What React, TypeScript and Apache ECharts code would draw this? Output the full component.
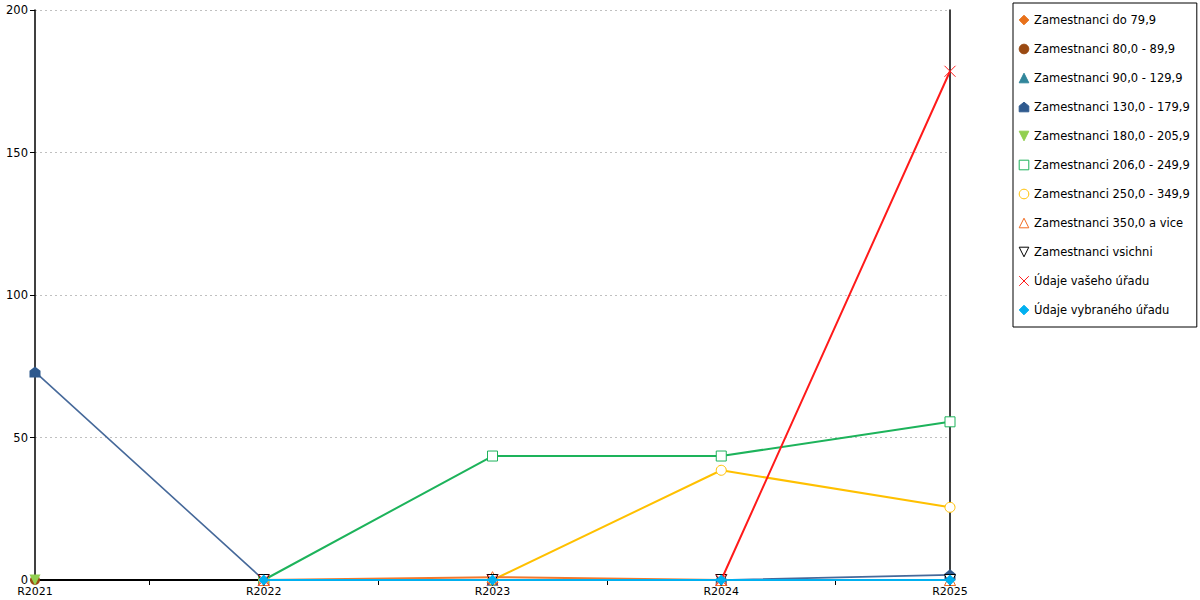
import React, { useEffect, useRef } from "react";
import * as echarts from "echarts";

const categories = ["R2021", "R2022", "R2023", "R2024", "R2025"];
const yTicks = [0, 50, 100, 150, 200];

const names = [
  "Zamestnanci do 79,9",
  "Zamestnanci 80,0 - 89,9",
  "Zamestnanci 90,0 - 129,9",
  "Zamestnanci 130,0 - 179,9",
  "Zamestnanci 180,0 - 205,9",
  "Zamestnanci 206,0 - 249,9",
  "Zamestnanci 250,0 - 349,9",
  "Zamestnanci 350,0 a vice",
  "Zamestnanci vsichni",
  "Údaje vašeho úřadu",
  "Údaje vybraného úřadu",
];

const do79 = [null, 0, 0, 0, 0];
const z80 = [0, null, null, null, null];
const z90 = [null, 0, 0, 0, 0];
const z130 = [73, 0, 0, 0, 1.8];
const z180 = [0, null, null, null, null];
const z206 = [null, 0, 43.5, 43.5, 55.5];
const z250 = [null, 0, 0, 38.5, 25.5];
const z350 = [null, 0, 1, 0, 0];
const vsichni = [null, 0, 0, 0, 0];
const vaseho = [null, 0, 0, 0, 178.5];
const vybraneho = [null, 0, 0, 0, 0];

const seriesData = [do79, z80, z90, z130, z180, z206, z250, z350, vsichni, vaseho, vybraneho];

const colors = [
  "#e8711a",
  "#9a4a12",
  "#31869b",
  "#2f5a8e",
  "#92d050",
  "#1db35b",
  "#ffc000",
  "#f26b21",
  "#000000",
  "#ff1a1a",
  "#00b0f0",
];

const lineColors = [
  "#e8711a",
  "#9a4a12",
  "#31869b",
  "#46699a",
  "#92d050",
  "#1db35b",
  "#ffc000",
  "#f27a2e",
  "#000000",
  "#ff1a1a",
  "#00b0f0",
];

const HOUSE = "path://M5,0 L10,4 L10,10 L0,10 L0,4 Z";
const CROSS = "path://M0,0 L10,10 M10,0 L0,10";

const symbols: any[] = [
  { symbol: "diamond", size: 10, rotate: 0, hollow: false },
  { symbol: "circle", size: 10, rotate: 0, hollow: false },
  { symbol: "triangle", size: 11, rotate: 0, hollow: false },
  { symbol: HOUSE, size: 11, rotate: 0, hollow: false },
  { symbol: "triangle", size: 11, rotate: 180, hollow: false },
  { symbol: "rect", size: 10, rotate: 0, hollow: true },
  { symbol: "circle", size: 10, rotate: 0, hollow: true },
  { symbol: "triangle", size: 11, rotate: 0, hollow: true },
  { symbol: "triangle", size: 11, rotate: 180, hollow: true },
  { symbol: CROSS, size: 11, rotate: 0, hollow: true, cross: true },
  { symbol: "diamond", size: 11, rotate: 0, hollow: false },
];

export default function App() {
  const ref = useRef<HTMLDivElement>(null);
  useEffect(() => {
    if (!ref.current) return;
    const chart = echarts.init(ref.current, undefined, { renderer: "svg" });
    const font = "DejaVu Sans";
    const series = names.map((name, i) => {
      const s = symbols[i];
      return {
        name,
        type: "line",
        data: seriesData[i],
        xAxisIndex: 0,
        yAxisIndex: 0,
        symbol: s.symbol,
        symbolSize: s.size,
        symbolRotate: s.rotate,
        showAllSymbol: true,
        connectNulls: false,
        lineStyle: { color: lineColors[i], width: i === 3 ? 1.6 : 2 },
        itemStyle: s.cross
          ? { color: "rgba(0,0,0,0)", borderColor: colors[i], borderWidth: 1 }
          : s.hollow
          ? { color: "#ffffff", borderColor: colors[i], borderWidth: 1 }
          : { color: colors[i], borderColor: colors[i], borderWidth: 0 },
        emphasis: { disabled: true },
        z: 2 + i,
      };
    });
    chart.setOption({
      animation: false,
      grid: { left: 35, right: 250, top: 10, bottom: 20, containLabel: false },
      legend: {
        orient: "vertical",
        left: 1013,
        top: 3,
        itemWidth: 12,
        itemHeight: 12,
        itemGap: 17,
        padding: [11, 7, 11, 5],
        borderColor: "#000",
        borderWidth: 1,
        lineStyle: { width: 0, opacity: 0 },
        itemStyle: { borderWidth: 1 },
        textStyle: { fontFamily: font, fontSize: 11.5, color: "#000", padding: [0, 0, 0, -1] },
        data: names,
      },
      xAxis: [
        {
          type: "category",
          data: categories,
          boundaryGap: false,
          axisLine: { show: true, lineStyle: { color: "#000", width: 2 } },
          axisTick: { show: false },
          axisLabel: { fontFamily: font, fontSize: 11, color: "#000", margin: 6 },
          splitLine: { show: false },
        },
        {
          type: "category",
          data: ["a", "b", "c", "d"],
          boundaryGap: true,
          position: "bottom",
          axisLine: { show: false },
          axisTick: { show: true, alignWithLabel: true, length: 5, lineStyle: { color: "#000" } },
          axisLabel: { show: false },
          splitLine: { show: false },
        },
      ],
      yAxis: [
        {
          type: "value",
          min: yTicks[0],
          max: yTicks[yTicks.length - 1],
          interval: 50,
          axisLine: { show: true, lineStyle: { color: "#000", width: 1.5 } },
          axisTick: { show: true, length: 5, lineStyle: { color: "#000" } },
          axisLabel: { fontFamily: font, fontSize: 11.5, color: "#000", margin: 7 },
          splitLine: { show: true, lineStyle: { color: "#c0c0c0", type: [2, 3], width: 1 } },
        },
        {
          type: "value",
          min: yTicks[0],
          max: yTicks[yTicks.length - 1],
          interval: 50,
          position: "right",
          axisLine: { show: true, onZero: false, lineStyle: { color: "#000", width: 1.5 } },
          axisTick: { show: false },
          axisLabel: { show: false },
          splitLine: { show: false },
        },
      ],
      series,
    });
    return () => chart.dispose();
  }, []);
  return (
    <div
      ref={ref}
      style={{ position: "fixed", left: 0, top: 0, width: 1200, height: 600, background: "#fff" }}
    />
  );
}
